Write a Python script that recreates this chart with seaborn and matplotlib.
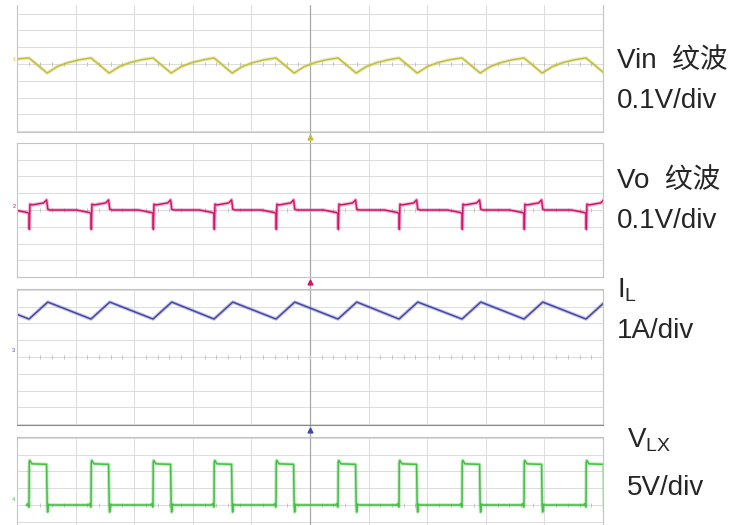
import numpy as np
import pandas as pd
import seaborn as sns
import matplotlib.pyplot as plt

sns.set_style('white')
plt.rcParams['font.family'] = ['Liberation Sans', 'Noto Sans CJK SC', 'DejaVu Sans']
plt.rcParams['mathtext.fontset'] = 'custom'
plt.rcParams['mathtext.rm'] = 'Liberation Sans'

# switching edges, in horizontal divisions from the left of the screen
edges = [0.205, 1.263, 2.321, 3.362, 4.420, 5.478, 6.519, 7.594, 8.652, 9.710]

# Vin ripple: one cycle (offset from edge, value in div)
vin_off = [0.0, 0.31, 0.48, 0.66, 0.86]
vin_val = [0.36, -0.54, -0.16, 0.08, 0.25]
vin_start = 0.30

# Vo ripple: one cycle
vo_off = [-0.25, -0.03, 0.0, 0.006, 0.016, 0.05, 0.25, 0.30, 0.32, 0.36]
vo_val = [0.0, -0.15, -0.2, -1.15, 0.35, 0.30, 0.42, 0.60, 0.05, 0.0]

# inductor current: valley / peak
il_start = 2.54
il_low = 2.26
il_high = 3.27
il_rise = 0.32

# switch node: one cycle
vlx_off = [-0.04, -0.02, -0.005, 0.0, 0.004, 0.012, 0.05, 0.30, 0.31, 0.318, 0.33, 0.36]
vlx_val = [0.0, 0.08, -0.12, 0.0, 2.55, 2.65, 2.45, 2.42, 0.0, -0.42, 0.05, 0.0]

labels = [('Vin  纹波', '0.1V/div'), ('Vo  纹波', '0.1V/div'),
          (r'$\mathregular{I_L}$', '1A/div'), (r'$\mathregular{V_{LX}}$', '5V/div')]
colors = ['#c2bf3e', '#d3156b', '#4747aa', '#44bf44']


def periodic(off, val):
    t, v = [], []
    for e in edges:
        t += [e + o for o in off]
        v += list(val)
    return pd.DataFrame({'t': t, 'v': v})


vin = pd.concat([pd.DataFrame({'t': [0.0], 'v': [vin_start]}), periodic(vin_off, vin_val)])
vo = periodic(vo_off, vo_val)
il_t, il_v = [0.0], [il_start]
for e in edges:
    il_t += [e, e + il_rise]
    il_v += [il_low, il_high]
il = pd.DataFrame({'t': il_t, 'v': il_v})
vlx = periodic(vlx_off, vlx_val)
traces = [vin, vo, il, vlx]

W, H = 742, 525
fig = plt.figure(figsize=(W / 100, H / 100), dpi=100)
left, width = 17 / W, 586 / W
pxdiv = 16.8
# (top px, bottom px, zero px)
panels = [(5, 132, 64), (143, 277, 210), (289, 425, 357), (437, 525, 505)]
chan_lvl = [0.24, 0.2, 0.4, 0.3]

bg = fig.add_axes([left, 0, width, 1 - 5 / H], zorder=-1)
bg.set_xlim(0, 10)
bg.axvline(5, color='#a8a8a8', lw=0.9)
bg.axis('off')

label_y = [(68, 108), (188, 228), (297, 338), (448, 495)]
label_x = [617, 617, 617, 627]

for i, (top, bot, zero) in enumerate(panels):
    ax = fig.add_axes([left, 1 - bot / H, width, (bot - top) / H])
    ylo, yhi = -(bot - zero) / pxdiv, (zero - top) / pxdiv
    ax.set_xlim(0, 10)
    ax.set_ylim(ylo, yhi)
    ax.set_xticks(range(11))
    ax.set_yticks(range(int(np.ceil(ylo)), int(np.floor(yhi)) + 1))
    ax.grid(True, color='#dcdcdc', lw=0.7)
    ax.tick_params(length=0, labelbottom=False, labelleft=False)
    ax.axvline(5, color='#a8a8a8', lw=0.9)
    ax.plot(np.arange(0, 10.01, 0.2), np.zeros(51), ls='none', marker='|', ms=3,
            color='#c4c4c4', mew=0.7)
    for s in ax.spines.values():
        s.set_color('#c4c4c4')
        s.set_linewidth(0.8)
    if i == 0:
        ax.spines['top'].set_visible(False)
    if i == 2:
        ax.spines['bottom'].set_color('#8a8a8a')
    if i == 3:
        ax.spines['bottom'].set_visible(False)

    c = colors[i]
    sns.lineplot(data=traces[i], x='t', y='v', ax=ax, color=c, lw=2.6, alpha=0.3,
                 sort=False, estimator=None)
    sns.lineplot(data=traces[i], x='t', y='v', ax=ax, color=c, lw=1.1,
                 sort=False, estimator=None)
    ax.set_xlabel('')
    ax.set_ylabel('')
    ax.text(-0.03, chan_lvl[i], str(i + 1), fontsize=4, color=c, ha='right',
            va='center', clip_on=False)
    if i < 3:
        ax.plot([5], [ylo - 5 / pxdiv], marker='^', ms=3.5, color=c, clip_on=False)

    l1, l2 = labels[i]
    fig.text(label_x[i] / W, 1 - label_y[i][0] / H, l1, fontsize=20, va='baseline')
    fig.text(label_x[i] / W, 1 - label_y[i][1] / H, l2, fontsize=20, va='baseline')

fig.savefig('out.png', dpi=100)
